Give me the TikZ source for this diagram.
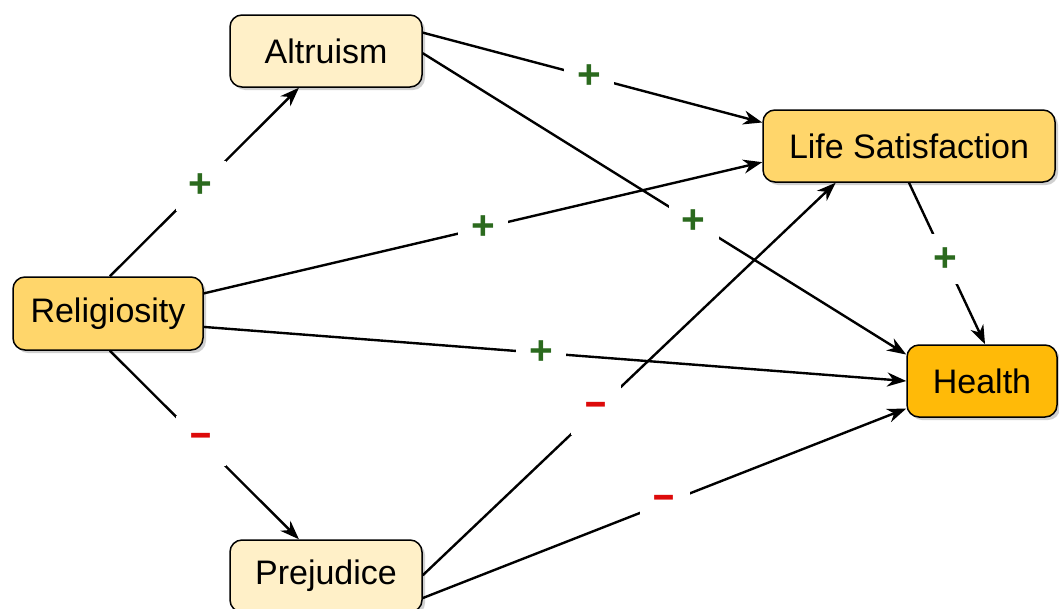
\documentclass[tikz,border=0pt]{standalone}
\usepackage{fontspec}
\setmainfont{Liberation Sans}
\usetikzlibrary{arrows.meta,shadows,calc}
\definecolor{cream}{HTML}{FFF0C8}
\definecolor{gold}{HTML}{FFD66B}
\definecolor{amber}{HTML}{FFBA08}
\definecolor{plusgreen}{HTML}{2B6A1E}
\definecolor{minusred}{HTML}{DD0A0A}
\begin{document}
\begin{tikzpicture}[x=1pt,y=-1pt,
  box/.style={draw=black, line width=1.5pt, rounded corners=12pt,
    font=\fontsize{34}{40}\selectfont, inner sep=0pt,
    drop shadow={shadow xshift=3pt, shadow yshift=-3pt, opacity=0.3, fill=black!60}},
  conn/.style={line width=2.4pt, -{Stealth[length=19pt,width=14pt,inset=6pt]}},
  signmark/.style={fill=white, minimum size=50pt, inner sep=0pt,
    font=\fontsize{28}{30}\selectfont\bfseries},
  plusmark/.style={signmark, text=plusgreen},
  minusmark/.style={signmark, text=minusred}]
\useasboundingbox (0,0) rectangle (1059,608);
\fill[white] (0,0) rectangle (1059,608);

\node[box, fill=cream, minimum width=192pt, minimum height=72pt] (alt) at (326,51) {Altruism};
\node[box, fill=gold, minimum width=292pt, minimum height=72pt] (life) at (909,146) {Life Satisfaction};
\node[box, fill=gold, minimum width=190pt, minimum height=73pt] (rel) at (108,313.5) {Religiosity};
\node[box, fill=amber, minimum width=150pt, minimum height=72pt] (health) at (982,381) {Health};
\node[box, fill=cream, minimum width=192pt, minimum height=72pt] (prej) at (326,576) {Prejudice};

\newcommand{\plussign}{\scalebox{1.45}{+}}
\newcommand{\minussign}{\scalebox{1.35}[1.7]{–}}

% Religiosity -> Altruism
\draw[conn] ($(rel.north west)!0.51!(rel.north east)$) --
  node[plusmark, pos=0.48] (s1) {\plussign} ($(alt.south west)!0.36!(alt.south east)$);
% Religiosity -> Prejudice
\draw[conn] ($(rel.south west)!0.51!(rel.south east)$) --
  node[minusmark, pos=0.48] (s2) {\minussign} ($(prej.north west)!0.36!(prej.north east)$);
% Religiosity -> Life Satisfaction
\draw[conn] ($(rel.north east)!0.23!(rel.south east)$) --
  node[plusmark, pos=0.5] (s3) {\plussign} ($(life.north west)!0.72!(life.south west)$);
% Religiosity -> Health
\draw[conn] ($(rel.north east)!0.68!(rel.south east)$) --
  node[plusmark, pos=0.48] (s4) {\plussign} ($(health.north west)!0.5!(health.south west)$);
% Altruism -> Life Satisfaction
\draw[conn] ($(alt.north east)!0.25!(alt.south east)$) --
  node[plusmark, pos=0.49] (s5) {\plussign} ($(life.north west)!0.18!(life.south west)$);
% Altruism -> Health
\draw[conn] ($(alt.north east)!0.53!(alt.south east)$) --
  node[plusmark, pos=0.56] (s6) {\plussign} ($(health.north west)!0.14!(health.south west)$);
% Life Satisfaction -> Health
\draw[conn] ($(life.south west)!0.5!(life.south east)$) --
  node[plusmark, pos=0.475] (s7) {\plussign} ($(health.north west)!0.52!(health.north east)$);
% Prejudice -> Life Satisfaction
\draw[conn] ($(prej.north east)!0.49!(prej.south east)$) --
  node[minusmark, pos=0.42] (s8) {\minussign} ($(life.south west)!0.25!(life.south east)$);
% Prejudice -> Health
\draw[conn] ($(prej.north east)!0.8!(prej.south east)$) --
  node[minusmark, pos=0.5] (s9) {\minussign} ($(health.north west)!0.875!(health.south west)$);
\end{tikzpicture}
\end{document}
